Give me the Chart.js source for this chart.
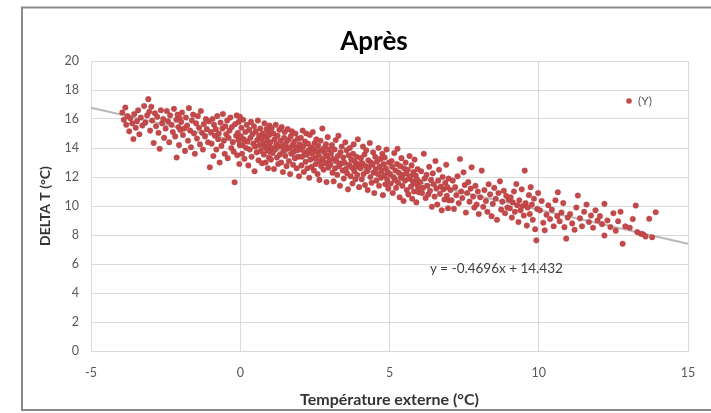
<!DOCTYPE html>
<html><head><meta charset="utf-8">
<script src="https://cdn.jsdelivr.net/npm/chart.js@4"></script>
<style>html,body{margin:0;padding:0;background:#fff;overflow:hidden}</style>
</head><body>
<canvas id="c" width="711" height="413"></canvas>
<script>
// Température externe (°C)
const tempExterne = [
-3.95,-3.9,-3.85,-3.82,-3.78,-3.72,-3.68,-3.62,-3.58,-3.55,-3.5,-3.46,-3.42,-3.38,-3.33,-3.28,-3.22,-3.18,-3.12,-3.08,-3.05,-3.02,
-2.98,-2.95,-2.9,-2.86,-2.82,-2.78,-2.74,-2.7,-2.66,-2.62,-2.58,-2.55,-2.5,-2.46,-2.42,-2.38,-2.35,-2.3,-2.26,-2.22,-2.18,-2.14,-2.13,-2.1,-2.07,-2.05,-2.03,-2.01,
-1.98,-1.95,-1.92,-1.88,-1.85,-1.82,-1.78,-1.75,-1.72,-1.68,-1.65,-1.62,-1.58,-1.55,-1.52,-1.48,-1.45,-1.42,-1.38,-1.35,-1.32,-1.28,-1.25,-1.22,-1.18,-1.15,-1.12,-1.08,-1.05,-1.02,
-0.98,-0.96,-0.93,-0.9,-0.88,-0.85,-0.82,-0.8,-0.77,-0.74,-0.72,-0.69,-0.66,-0.63,-0.6,-0.58,-0.55,-0.52,-0.5,-0.47,-0.44,-0.42,-0.39,-0.36,-0.33,-0.3,-0.28,-0.25,-0.22,-0.19,-0.17,-0.14,-0.12,-0.1,-0.08,-0.06,-0.05,-0.03,-0.02,-0.01,
0.02,0.04,0.06,0.08,0.1,0.12,0.14,0.17,0.2,0.22,0.24,0.27,0.3,0.32,0.34,0.36,0.38,0.41,0.44,0.46,0.48,0.5,0.52,0.55,0.57,0.59,0.61,0.63,0.65,0.67,0.69,0.71,0.73,0.75,0.77,0.79,0.81,0.83,0.85,0.87,0.88,0.9,0.91,0.93,0.94,0.95,0.96,0.97,0.98,0.99,
1.01,1.03,1.05,1.07,1.09,1.11,1.13,1.15,1.17,1.19,1.21,1.23,1.25,1.27,1.29,1.31,1.33,1.35,1.37,1.39,1.41,1.43,1.45,1.47,1.49,1.51,1.53,1.55,1.57,1.59,1.61,1.63,1.65,1.67,1.69,1.71,1.73,1.75,1.77,1.79,1.81,1.83,1.85,1.87,1.89,1.91,1.93,1.95,1.97,1.99,
2.01,2.03,2.05,2.07,2.09,2.11,2.13,2.15,2.17,2.19,2.21,2.23,2.25,2.27,2.29,2.31,2.33,2.35,2.37,2.39,2.41,2.43,2.45,2.47,2.49,2.51,2.53,2.55,2.57,2.59,2.61,2.63,2.65,2.67,2.69,2.71,2.73,2.75,2.77,2.79,2.81,2.83,2.85,2.87,2.89,2.91,2.93,2.95,2.97,2.99,
3.02,3.04,3.07,3.09,3.11,3.13,3.16,3.18,3.2,3.22,3.25,3.27,3.29,3.31,3.34,3.36,3.38,3.4,3.43,3.45,3.47,3.49,3.52,3.54,3.56,3.58,3.61,3.63,3.65,3.67,3.7,3.72,3.74,3.76,3.78,3.8,3.82,3.84,3.86,3.88,3.9,3.92,3.94,3.96,3.98,
4.02,4.04,4.07,4.09,4.11,4.13,4.16,4.18,4.2,4.22,4.25,4.27,4.29,4.31,4.34,4.36,4.38,4.4,4.43,4.45,4.47,4.49,4.52,4.54,4.56,4.58,4.61,4.63,4.65,4.67,4.7,4.72,4.74,4.76,4.78,4.8,4.82,4.84,4.86,4.88,4.9,4.92,4.94,4.96,4.98,
5.02,5.04,5.07,5.09,5.11,5.13,5.16,5.18,5.2,5.22,5.25,5.27,5.29,5.31,5.34,5.36,5.38,5.4,5.43,5.45,5.47,5.49,5.52,5.54,5.56,5.58,5.61,5.63,5.65,5.67,5.7,5.72,5.74,5.76,5.78,5.8,5.82,5.84,5.86,5.88,5.9,5.92,5.94,5.96,5.98,
6.03,6.06,6.09,6.12,6.15,6.18,6.21,6.24,6.27,6.3,6.33,6.36,6.39,6.42,6.45,6.48,6.51,6.54,6.57,6.6,6.63,6.66,6.69,6.72,6.75,6.78,6.81,6.84,6.87,6.9,6.92,6.94,6.96,6.98,6.99,
7.04,7.08,7.12,7.16,7.2,7.24,7.28,7.32,7.36,7.4,7.44,7.48,7.52,7.56,7.6,7.64,7.68,7.72,7.75,7.8,7.84,7.88,7.92,7.96,7.99,
8.04,8.09,8.14,8.18,8.23,8.28,8.32,8.37,8.42,8.46,8.51,8.56,8.6,8.65,8.7,8.74,8.78,8.83,8.87,8.91,8.95,8.99,
9.03,9.06,9.1,9.13,9.17,9.2,9.25,9.28,9.32,9.35,9.39,9.43,9.46,9.5,9.53,9.56,9.6,9.63,9.67,9.7,9.73,9.77,9.8,9.84,9.88,9.92,9.95,9.98,
10.04,10.1,10.15,10.2,10.26,10.32,10.38,10.44,10.5,10.56,10.62,10.64,10.7,10.76,10.82,10.86,10.92,10.97,
11.05,11.12,11.2,11.26,11.31,11.38,11.45,11.52,11.6,11.68,11.75,11.82,11.9,11.97,
12.05,12.12,12.2,12.2,12.3,12.4,12.5,12.58,12.66,12.74,12.81,12.9,
13.05,13.15,13.25,13.3,13.42,13.5,13.58,13.7,13.8,13.92
];
// DELTA T (°C)
const deltaT = [
16.45,15.95,16.79,15.6,16.2,15.15,16.05,15.7,14.62,16.35,15.4,15.85,16.6,14.95,16.1,15.55,16.9,15.75,16.25,17.37,16.5,15.2,
16.85,15.9,14.35,16.4,15.5,16.15,15.05,13.95,16.6,15.7,16.0,14.7,15.35,16.55,15.85,14.4,16.25,15.6,15.1,16.7,14.8,15.95,13.35,16.3,15.45,14.2,16.05,15.25,
15.8,16.45,14.9,15.35,13.8,16.1,15.55,14.5,16.75,15.2,14.05,15.9,16.3,15.0,13.6,15.7,14.65,16.2,15.4,14.25,16.55,15.05,13.9,15.65,14.8,16.0,15.3,14.4,15.85,12.67,
15.1,14.3,16.0,13.45,15.6,14.85,15.3,13.9,16.2,14.6,15.0,13.0,15.75,14.15,15.35,16.35,14.5,13.6,15.5,14.95,15.9,13.3,14.7,15.2,16.1,14.0,15.45,14.4,13.75,11.64,15.65,14.85,16.25,13.5,15.05,14.55,15.8,12.9,14.2,16.15,
14.8,15.4,13.6,14.2,15.95,14.6,13.25,15.1,14.0,15.6,14.45,12.8,15.25,13.9,14.7,15.8,13.4,14.95,14.3,15.5,12.4,14.1,15.15,13.7,14.55,15.9,13.15,14.85,14.2,15.35,13.8,14.65,12.95,15.0,14.35,13.55,15.7,14.05,13.0,14.75,15.3,13.85,14.5,12.6,15.05,14.15,13.35,14.9,15.55,13.75,
14.4,13.2,15.35,14.0,13.65,15.0,12.55,14.6,13.9,15.6,14.25,13.35,14.85,12.9,14.1,15.25,13.55,14.5,13.0,15.45,14.15,12.35,13.8,14.7,15.1,13.45,14.3,12.75,13.95,15.3,14.55,13.1,14.0,12.2,14.8,13.6,15.15,14.2,12.85,13.75,14.45,13.3,15.0,14.05,12.6,13.85,14.65,13.4,12.05,14.25,
13.9,14.7,12.8,13.4,15.2,14.1,12.35,13.7,14.45,13.05,15.0,13.55,12.6,14.3,13.85,11.95,14.9,13.2,14.05,12.7,13.6,15.1,13.95,12.45,14.35,13.3,12.9,14.6,13.75,12.2,14.15,13.5,11.8,13.1,14.5,12.75,13.85,15.35,13.25,12.5,14.0,13.65,12.95,14.25,11.65,13.45,14.75,12.65,13.9,13.15,
12.85,13.6,14.2,12.3,13.25,11.7,13.9,12.6,14.55,13.1,12.15,13.45,14.85,12.75,11.4,13.7,12.95,14.1,12.45,13.35,11.9,13.0,14.4,12.55,13.85,12.25,11.15,13.5,12.85,14.0,12.05,13.2,12.65,11.55,13.6,14.25,12.4,13.05,11.85,12.75,13.4,12.15,14.6,12.9,11.3,
12.6,13.3,11.85,12.95,14.1,12.2,13.55,11.45,12.75,13.85,12.4,11.1,13.15,12.65,14.35,12.0,13.0,11.6,12.85,13.7,12.3,10.9,13.4,12.55,11.75,13.05,12.2,14.0,11.4,12.7,13.25,11.95,12.45,13.6,10.75,12.9,12.1,13.35,11.5,12.6,13.9,11.85,12.35,11.2,13.0,
12.2,11.55,13.1,12.7,10.9,12.0,13.65,11.8,12.45,11.25,12.9,13.95,11.6,12.3,10.6,12.75,11.95,13.3,11.4,12.15,10.35,12.6,11.75,13.0,12.25,11.1,12.5,10.8,11.9,13.45,12.05,11.35,12.8,10.5,11.7,12.35,11.0,13.2,11.55,12.1,10.25,11.85,12.55,11.3,10.95,
11.65,12.4,10.9,11.25,13.6,11.9,10.55,12.15,11.4,10.8,12.7,11.05,11.8,9.95,12.25,11.5,10.65,13.1,11.2,10.1,11.75,12.5,10.85,11.35,9.7,12.0,11.15,10.45,11.6,12.85,10.7,11.3,9.85,11.9,10.4,
11.1,10.4,11.75,9.8,11.3,10.75,12.05,10.2,13.24,11.0,10.55,12.32,11.45,9.55,10.9,11.65,10.3,11.2,12.67,10.65,9.9,11.4,10.1,11.0,9.45,
10.6,12.44,9.95,11.1,10.35,9.6,11.5,10.8,9.3,10.15,11.25,10.5,9.05,10.9,11.7,9.75,10.3,11.05,9.5,10.7,9.9,10.45,
9.85,10.6,9.2,10.25,11.0,9.6,11.52,10.05,8.9,10.4,9.7,11.15,10.0,9.35,12.44,10.2,8.65,9.9,10.75,9.45,11.3,10.1,9.05,10.5,8.4,7.63,9.8,10.9,
9.7,10.35,8.85,8.32,9.4,10.05,9.1,9.75,8.6,10.4,9.3,10.95,8.95,9.55,10.2,8.54,7.75,9.2,
9.45,8.8,8.36,9.9,10.72,9.15,8.6,9.6,10.1,8.9,9.35,8.5,9.7,9.0,
9.3,8.75,10.15,7.97,9.0,8.55,9.5,8.3,8.95,9.6,7.4,8.6,
8.5,9.1,10.03,8.2,8.09,8.05,7.9,9.12,7.85,9.57
];
// Linear trendline y = -0.4696x + 14.432, endpoints at the axis limits
const trendX = [-5, 15];
const trendY = [16.78, 7.39];
const xTicks = [-5, 0, 5, 10, 15];
const yTicks = [0, 2, 4, 6, 8, 10, 12, 14, 16, 18, 20];
const seriesLabel = '(Y)';
const chartTitle = 'Après';
const xTitle = 'Température externe (°C)';
const yTitle = 'DELTA T (°C)';
const equationText = 'y = -0.4696x + 14.432';
const equationPos = [8.58, 5.65];

const FONT = 'Lato, "Open Sans", "Liberation Sans", sans-serif';
const RED = '#c4494b';
const GRID = '#d9d9d9';

const scatterData = tempExterne.map((x, i) => ({x: x, y: deltaT[i]}));
const trendData = trendX.map((x, i) => ({x: x, y: trendY[i]}));

const frame = {
  id: 'frame',
  beforeDraw(chart) {
    const ctx = chart.ctx;
    ctx.save();
    ctx.fillStyle = '#fff';
    ctx.fillRect(0, 0, chart.width, chart.height);
    ctx.strokeStyle = '#8a8a8a';
    ctx.lineWidth = 2;
    ctx.strokeRect(22, 7.5, 700, 402.5);
    ctx.restore();
  },
  afterDraw(chart) {
    const ctx = chart.ctx;
    const xs = chart.scales.x, ys = chart.scales.y;
    ctx.save();
    // legend entry
    const ds = chart.data.datasets[0];
    ctx.fillStyle = ds.backgroundColor;
    ctx.beginPath();
    ctx.arc(629, 101, 2.8, 0, Math.PI * 2);
    ctx.fill();
    ctx.fillStyle = '#595959';
    ctx.font = '12px ' + FONT;
    ctx.textBaseline = 'middle';
    ctx.textAlign = 'left';
    ctx.fillText(ds.label, 638, 101);
    // equation label
    ctx.fillStyle = '#404040';
    ctx.font = '13.5px ' + FONT;
    ctx.textAlign = 'center';
    ctx.fillText(equationText, xs.getPixelForValue(equationPos[0]), ys.getPixelForValue(equationPos[1]));
    ctx.restore();
  }
};

new Chart(document.getElementById('c'), {
  type: 'scatter',
  data: {
    datasets: [
      {
        label: seriesLabel,
        data: scatterData,
        backgroundColor: RED,
        borderColor: 'rgba(170,50,52,0.5)',
        borderWidth: 0.6,
        pointRadius: 2.8,
        order: 0
      },
      {
        label: 'Linéaire',
        type: 'line',
        data: trendData,
        borderColor: '#b8b8b8',
        borderWidth: 2,
        pointRadius: 0,
        fill: false,
        order: 1
      }
    ]
  },
  options: {
    responsive: false,
    animation: false,
    devicePixelRatio: 1,
    layout: {padding: {left: 37, right: 0, top: 0, bottom: 3}},
    plugins: {
      legend: {display: false},
      tooltip: {enabled: false},
      title: {
        display: true,
        text: chartTitle,
        color: '#000',
        font: {family: FONT, size: 26, weight: 'bold'},
        padding: {top: 26, bottom: 3.8}
      }
    },
    scales: {
      x: {
        type: 'linear',
        position: 'bottom',
        min: -5, max: 15,
        afterBuildTicks: s => { s.ticks = xTicks.map(v => ({value: v})); },
        afterFit: s => { s.height = 59; },
        grid: {color: GRID, lineWidth: 1, drawTicks: false},
        border: {color: GRID, width: 1},
        ticks: {color: '#595959', font: {family: FONT, size: 12.5}, padding: 14.5},
        title: {display: true, text: xTitle, color: '#333', font: {family: FONT, size: 16, weight: 'bold'}, padding: {top: 0, bottom: 0.5}}
      },
      y: {
        position: 'left',
        min: 0, max: 20,
        afterBuildTicks: s => { s.ticks = yTicks.map(v => ({value: v})); },
        afterFit: s => { s.width = 54; },
        grid: {color: GRID, lineWidth: 1, drawTicks: false},
        border: {color: GRID, width: 1},
        ticks: {color: '#595959', font: {family: FONT, size: 12.5}, padding: 12},
        title: {display: true, text: yTitle, color: '#333', font: {family: FONT, size: 14, weight: 'bold'}, padding: {top: 0, bottom: 0}}
      },
      y2: {
        position: 'right',
        display: true,
        grid: {display: false},
        border: {display: false},
        ticks: {display: false},
        afterFit: s => { s.width = 23; }
      }
    }
  },
  plugins: [frame]
});
</script>
</body></html>
